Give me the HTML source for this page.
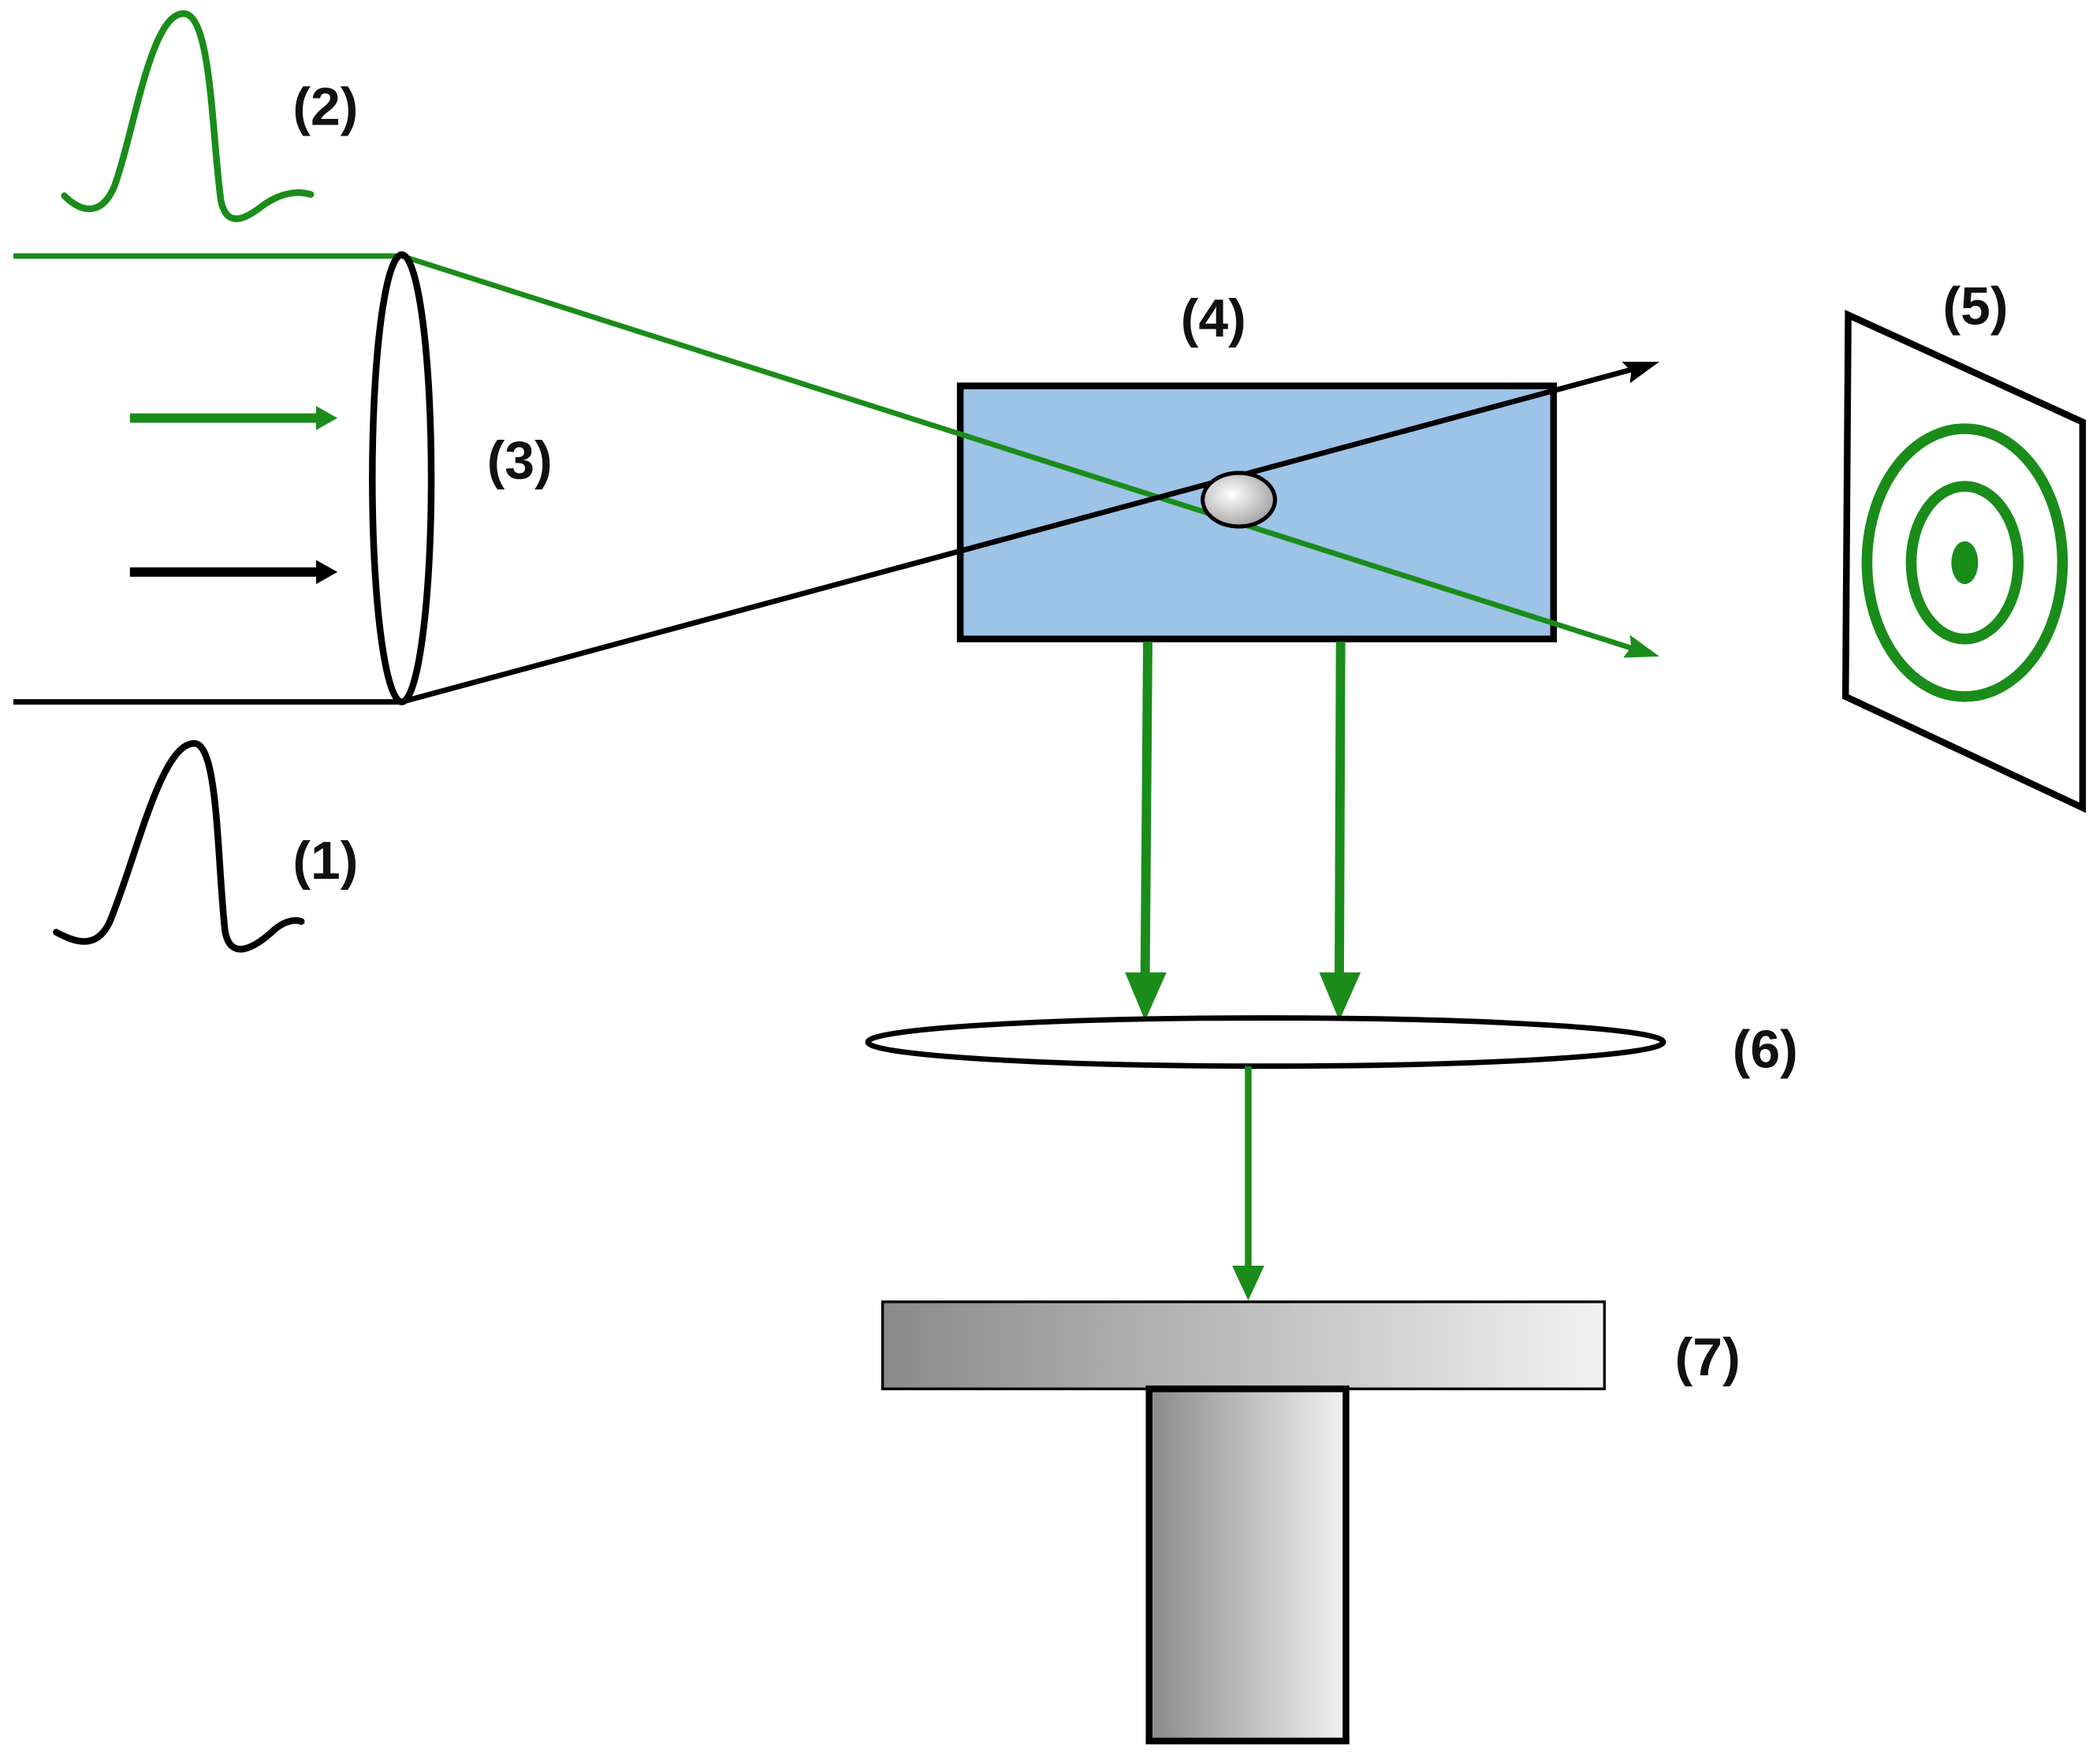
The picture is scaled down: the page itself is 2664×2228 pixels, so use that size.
<!DOCTYPE html>
<html><head><style>html,body{margin:0;padding:0;background:#fff}svg{display:block}</style></head>
<body>
<svg width="2664" height="2228" viewBox="0 0 1568 1311" xmlns="http://www.w3.org/2000/svg">
<defs>
<linearGradient id="g1" x1="0" x2="1" y1="0" y2="0"><stop offset="0" stop-color="#8a8a8a"/><stop offset="1" stop-color="#f2f2f2"/></linearGradient>
<radialGradient id="bub" cx="0.4" cy="0.4" r="0.7"><stop offset="0" stop-color="#fff"/><stop offset="1" stop-color="#999"/></radialGradient>
</defs>
<g font-family="Liberation Sans, sans-serif" font-weight="bold" font-size="40" text-anchor="middle" fill="#111">
<text x="243" y="93">(2)</text><text x="388" y="357">(3)</text><text x="906" y="251">(4)</text>
<text x="1475" y="242">(5)</text><text x="1318" y="797">(6)</text><text x="1275" y="1027">(7)</text><text x="243" y="656">(1)</text>
</g>
<path d="M48,146 C60,158 75,162 85,140 C100,100 112,10 137,10 C158,10 158,100 165,150 C170,172 185,162 198,152 C210,144 222,142 232,145" fill="none" stroke="#1a8c1a" stroke-width="5" stroke-linecap="round"/>
<path d="M42,696 C55,703 72,710 82,688 C102,640 120,555 145,555 C163,555 162,640 168,695 C172,718 190,708 205,694 C212,688 220,686 225,688" fill="none" stroke="#000" stroke-width="5" stroke-linecap="round"/>
<rect x="717" y="288" width="443" height="189" fill="#9dc3e6" stroke="#000" stroke-width="5"/>
<line x1="10" y1="191" x2="300" y2="191" stroke="#1a8c1a" stroke-width="4"/>
<line x1="300" y1="191" x2="1225" y2="486" stroke="#1a8c1a" stroke-width="4"/>
<polygon points="1239,490 1212,491 1218,483 1217,474" fill="#1a8c1a"/>
<line x1="10" y1="524" x2="300" y2="524" stroke="#000" stroke-width="4"/>
<line x1="300" y1="524" x2="1225" y2="274" stroke="#000" stroke-width="4"/>
<polygon points="1239,270 1217,286 1218,277 1211,270" fill="#000"/>
<ellipse cx="925" cy="373" rx="27" ry="20" fill="url(#bub)" stroke="#000" stroke-width="3"/>
<ellipse cx="300" cy="357" rx="22" ry="167" fill="none" stroke="#000" stroke-width="5"/>
<line x1="97" y1="312" x2="240" y2="312" stroke="#1a8c1a" stroke-width="7"/>
<polygon points="252,312 236,303 236,321" fill="#1a8c1a"/>
<line x1="97" y1="427" x2="240" y2="427" stroke="#000" stroke-width="7"/>
<polygon points="252,427 236,418 236,436" fill="#000"/>
<polygon points="1380,235 1555,315 1555,603 1378,520" fill="#fff" stroke="#000" stroke-width="5"/>
<ellipse cx="1467" cy="420" rx="73" ry="100" fill="none" stroke="#1a8c1a" stroke-width="8"/>
<ellipse cx="1467" cy="420" rx="40" ry="57" fill="none" stroke="#1a8c1a" stroke-width="8"/>
<ellipse cx="1467" cy="420" rx="10" ry="16" fill="#1a8c1a"/>
<line x1="857" y1="479" x2="855" y2="730" stroke="#1a8c1a" stroke-width="7"/>
<polygon points="840,726 871,726 855,762" fill="#1a8c1a"/>
<line x1="1001" y1="479" x2="1000" y2="730" stroke="#1a8c1a" stroke-width="7"/>
<polygon points="985,726 1016,726 1000,762" fill="#1a8c1a"/>
<ellipse cx="945" cy="778" rx="297" ry="18" fill="none" stroke="#000" stroke-width="4"/>
<line x1="932" y1="796" x2="932" y2="950" stroke="#1a8c1a" stroke-width="5"/>
<polygon points="920,945 944,945 932,971" fill="#1a8c1a"/>
<rect x="659" y="972" width="539" height="65" fill="url(#g1)" stroke="#000" stroke-width="2"/>
<rect x="858" y="1037" width="147" height="263" fill="url(#g1)" stroke="#000" stroke-width="5"/>
</svg>
</body></html>
